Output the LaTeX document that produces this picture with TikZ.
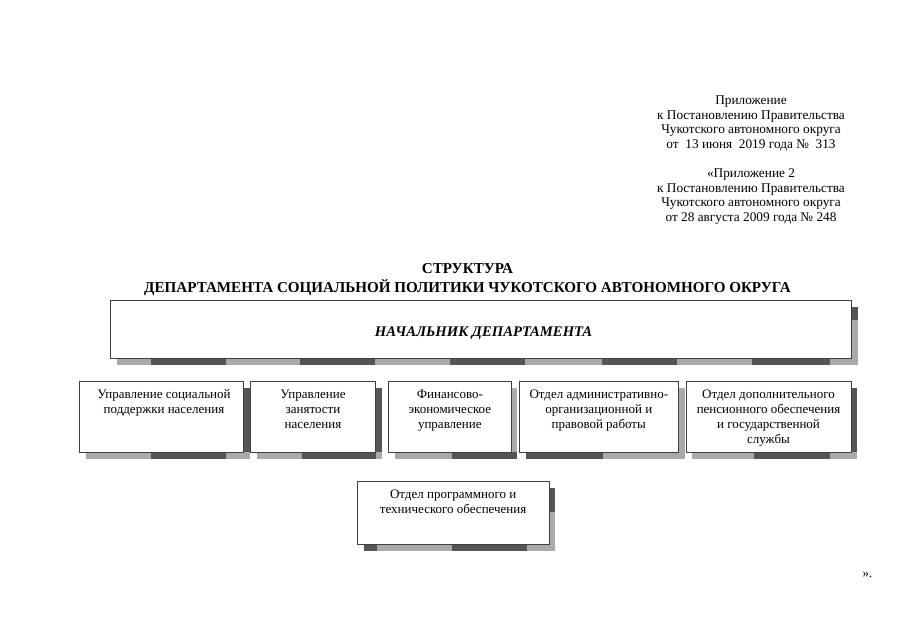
\documentclass[tikz,border=0pt]{standalone}
\usepackage{fontspec}
\setmainfont{Liberation Serif}
\definecolor{shdark}{HTML}{555555}
\definecolor{shlight}{HTML}{AAAAAA}
\definecolor{boxline}{HTML}{404040}
\begin{document}
\begin{tikzpicture}[x=1pt,y=-1pt,
  hdr/.style={font=\fontsize{13.3}{14.6}\selectfont, align=center, inner sep=0pt, anchor=north},
  ttl/.style={font=\fontsize{15.1}{16.5}\selectfont\bfseries, align=center, inner sep=0pt, anchor=north},
  boxtxt/.style={font=\fontsize{13}{15}\selectfont, align=center, inner sep=0pt, anchor=north},
  unit/.style={draw=boxline, line width=0.8pt, fill=white, rectangle, inner sep=0pt},
  sl/.style={fill=shlight, draw=none},
  sd/.style={fill=shdark, draw=none}]
\useasboundingbox (0,0) rectangle (905,640);
\fill[white] (0,0) rectangle (905,640);

% header
\node[hdr] (hdr1) at (751,94) {\strut Приложение\\к Постановлению Правительства\\Чукотского автономного округа\\от~ 13 июня~ 2019 года №~ 313};
\node[hdr] (hdr2) at (751,167) {\strut «Приложение 2\\к Постановлению Правительства\\Чукотского автономного округа\\от 28 августа 2009 года № 248};

% title
\node[ttl] (title) at (467.5,261.5) {\strut СТРУКТУРА\\ДЕПАРТАМЕНТА СОЦИАЛЬНОЙ ПОЛИТИКИ ЧУКОТСКОГО АВТОНОМНОГО ОКРУГА};

% shadows
\fill[sl] (116.7,306.7) rectangle (857.7,364.7);
\foreach \a/\b in {151/226,300/375,450/525,602/677,752/830}{\fill[sd] (\a,358) rectangle (\b,364.7);}
\fill[sd] (851,306.7) rectangle (857.7,320);

\fill[sl] (85.7,388) rectangle (250,458.6);
\fill[sd] (151,452.3) rectangle (226,458.6);
\fill[sd] (243.7,388) rectangle (250,452.3);

\fill[sl] (257,388) rectangle (382,458.6);
\fill[sd] (301.7,452.3) rectangle (375.7,458.6);
\fill[sd] (375.7,388) rectangle (382,452.3);

\fill[sl] (395,388) rectangle (517.3,458.6);
\fill[sd] (451.7,452.3) rectangle (517.3,458.6);

\fill[sl] (526,388) rectangle (684.6,458.6);
\fill[sd] (526,452.3) rectangle (603.3,458.6);

\fill[sl] (692.3,388) rectangle (857.3,458.6);
\fill[sd] (754,452.3) rectangle (830,458.6);
\fill[sd] (851,388) rectangle (857.3,452.3);

\fill[sl] (364,487.5) rectangle (555.3,550.5);
\fill[sd] (364,544) rectangle (377,550.5);
\fill[sd] (452,544) rectangle (527,550.5);
\fill[sd] (549,487.5) rectangle (555.3,512);

% boxes
\node[unit, minimum width=740.7pt, minimum height=57.7pt] (chief) at (480.65,329.15) {};
\node[font=\fontsize{14.7}{17}\selectfont\bfseries\itshape, inner sep=0pt, anchor=base] (chieft) at (483.5,336) {НАЧАЛЬНИК ДЕПАРТАМЕНТА};

\node[unit, minimum width=164.7pt, minimum height=70.6pt] (b1) at (161.35,417) {};
\node[unit, minimum width=125.4pt, minimum height=70.6pt] (b2) at (313,417) {};
\node[unit, minimum width=122.3pt, minimum height=70.6pt] (b3) at (449.85,417) {};
\node[unit, minimum width=159pt, minimum height=70.6pt] (b4) at (598.8,417) {};
\node[unit, minimum width=165pt, minimum height=70.6pt] (b5) at (768.5,417) {};
\node[unit, minimum width=191.7pt, minimum height=63pt] (b6) at (453.15,512.5) {};

\node[boxtxt] (t1) at (164,387.7) {\strut Управление социальной\\поддержки населения};
\node[boxtxt] (t2) at (313,387.7) {\strut Управление\\занятости\\населения};
\node[boxtxt] (t3) at (449.85,387.7) {\strut Финансово-\\экономическое\\управление};
\node[boxtxt] (t4) at (598.8,387.7) {\strut Отдел административно-\\организационной и\\правовой работы};
\node[boxtxt] (t5) at (768.5,387.7) {\strut Отдел дополнительного\\пенсионного обеспечения\\и государственной\\службы};
\node[boxtxt] (t6) at (453.15,488) {\strut Отдел программного и\\технического обеспечения};

\node[font=\fontsize{13}{15}\selectfont, inner sep=0pt, anchor=base] (endq) at (867.5,577) {».};
\end{tikzpicture}
\end{document}
